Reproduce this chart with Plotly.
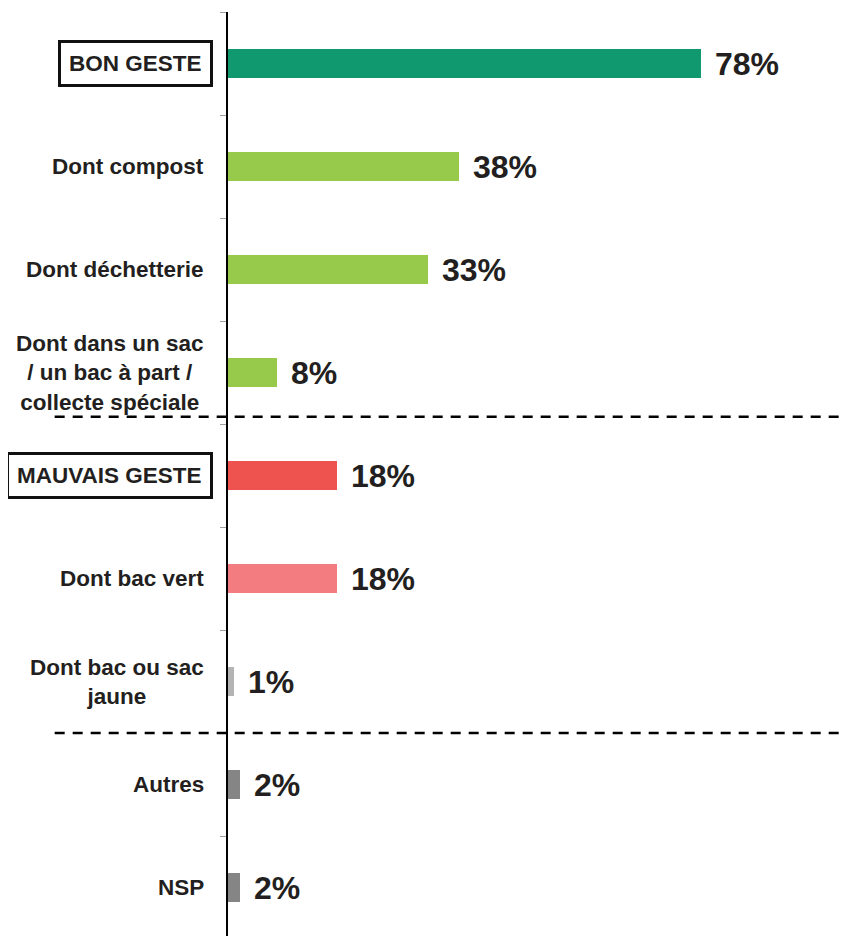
import plotly.graph_objects as go

categories = [
    "BON GESTE",
    "Dont compost",
    "Dont déchetterie",
    "Dont dans un sac<br>/ un bac à part /<br>collecte spéciale",
    "MAUVAIS GESTE",
    "Dont bac vert",
    "Dont bac ou sac<br>jaune",
    "Autres",
    "NSP",
]
values = [78, 38, 33, 8, 18, 18, 1, 2, 2]
value_labels = ["78%", "38%", "33%", "8%", "18%", "18%", "1%", "2%", "2%"]
bar_colors = [
    "#10986f", "#97c94b", "#97c94b", "#97c94b",
    "#ef5350", "#f27c80", "#b4b4b4", "#858585", "#858585",
]
boxed = {"BON GESTE", "MAUVAIS GESTE"}

TEXT = "#231f20"
FONT = "Liberation Sans, Arial, sans-serif"

fig = go.Figure(
    go.Bar(
        x=values,
        y=categories,
        orientation="h",
        width=0.28,
        marker={"color": bar_colors, "line": {"width": 0}},
        hoverinfo="skip",
    )
)

annotations = []
for cat, val, lab in zip(categories, values, value_labels):
    annotations.append(
        dict(
            x=val, y=cat, xref="x", yref="y", text=f"<b>{lab}</b>",
            xanchor="left", yanchor="middle", xshift=12, showarrow=False,
            font={"size": 32, "color": TEXT, "family": FONT},
        )
    )
    if cat in boxed:
        annotations.append(
            dict(
                x=-0.024, y=cat, xref="paper", yref="y", text=f"<b>{cat}</b>",
                xanchor="right", yanchor="middle", showarrow=False,
                bordercolor="#111111", borderwidth=3, borderpad=8,
                bgcolor="white",
                font={"size": 22.5, "color": TEXT, "family": FONT},
            )
        )
    else:
        annotations.append(
            dict(
                x=-0.036, y=cat, xref="paper", yref="y", text=f"<b>{cat}</b>",
                xanchor="right", yanchor="middle", align="center", showarrow=False,
                font={"size": 22.5, "color": TEXT, "family": FONT},
            )
        )

shapes = [
    dict(
        type="line", xref="paper", yref="y", x0=-0.28, x1=1.0, y0=yy, y1=yy,
        line={"color": "black", "width": 2.5, "dash": "10px,8px"},
    )
    for yy in (3.43, 6.5)
]

# page body has an 8px margin, so the figure is shrunk to fit the window
fig.update_layout(
    width=839,
    height=928,
    margin={"l": 220, "r": 0, "t": 4, "b": 0},
    paper_bgcolor="white",
    plot_bgcolor="white",
    showlegend=False,
    bargap=0,
    annotations=annotations,
    shapes=shapes,
    font={"family": FONT, "color": TEXT},
)
fig.update_xaxes(range=[0, 102], visible=False, fixedrange=True)
fig.update_yaxes(
    type="category",
    range=[8.47, -0.5],
    showticklabels=False,
    showgrid=False,
    zeroline=False,
    showline=True,
    linecolor="black",
    linewidth=1.5,
    ticks="outside",
    tickson="boundaries",
    ticklen=6,
    tickcolor="#a0a0a0",
    tickwidth=1,
)

fig.write_html("out.html")
